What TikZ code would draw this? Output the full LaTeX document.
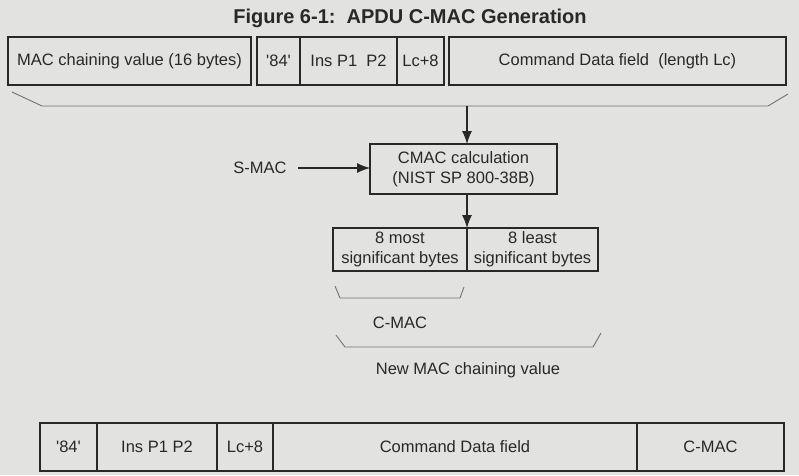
\documentclass[tikz,border=0pt]{standalone}
\usepackage{fontspec}
\setmainfont{Liberation Sans}
\usetikzlibrary{positioning,arrows.meta}
\definecolor{paper}{RGB}{226,226,224}
\definecolor{ink}{RGB}{40,40,40}

\begin{document}
\begin{tikzpicture}[x=1pt, y=-1pt, >={Latex[length=13pt,width=10pt]},
  field/.style={draw=ink, line width=1.1pt, outer sep=0pt, inner sep=0pt,
    minimum height=48pt, align=center, text=ink,
    font=\fontsize{16.5}{20}\selectfont},
  plain/.style={text=ink, font=\fontsize{16.5}{20}\selectfont},
  brace/.style={draw=ink!65, line width=0.9pt},
  flow/.style={->, draw=ink, line width=1.1pt}]

  % the sheet
  \fill[paper] (0,0) rectangle (799,475);
  \useasboundingbox (0,0) rectangle (799,475);

  \node[plain, font=\fontsize{20}{24}\selectfont\bfseries] (title) at (410,18)
    {Figure 6-1:\ \ APDU C-MAC Generation};

  % chaining value and the command header + data
  \node[field, minimum width=243pt, anchor=west] (chain) at (8,61)
    {MAC chaining value (16 bytes)};
  \node[field, minimum width=43pt, anchor=west] (cla) at (257,61)
    {\textquotesingle 84\textquotesingle};
  \node[field, minimum width=97pt, right=0pt of cla] (ins) {Ins P1\ \ P2};
  \node[field, minimum width=47pt, right=0pt of ins] (lc) {Lc+8};
  \node[field, minimum width=337pt, anchor=west] (data) at (449,61)
    {Command Data field\ \ (length Lc)};

  % bracket gathering all of it
  \draw[brace] (12,92) -- (42,106) -- (768,106) -- (788,94);
  \coordinate (in) at (467,106);

  % the MAC computation
  \node[field, minimum width=187pt, minimum height=50pt] (cmac) at (463.5,169)
    {CMAC calculation\\(NIST SP 800-38B)};
  \node[plain] (smac) at (260,168) {S-MAC};

  \draw[flow] (in) -- (in |- cmac.north);
  \draw[flow, shorten <=8pt] (smac) -- (smac -| cmac.west);

  % the 16-byte result, in two halves
  \node[field, minimum width=134pt, minimum height=43pt, anchor=north west]
    (most) at (333,228) {8 most\\significant bytes};
  \node[field, minimum width=131pt, minimum height=43pt, right=0pt of most]
    (least) {8 least\\significant bytes};
  \draw[flow] (cmac.south -| in) -- (most.north east);

  % upper half is the C-MAC, all of it the next chaining value
  \draw[brace] (335,286) -- (340,298) -- (460,298) -- (464,287);
  \node[plain] (cmacval) at (400,323) {C-MAC};
  \draw[brace] (336,335) -- (345,347) -- (593,347) -- (601,333);
  \node[plain] (newchain) at (468,370) {New MAC chaining value};

  % the protected command
  \node[field, minimum width=57pt, anchor=west] (cla2) at (40,447)
    {\textquotesingle 84\textquotesingle};
  \node[field, minimum width=120pt, right=0pt of cla2] (ins2) {Ins P1 P2};
  \node[field, minimum width=56pt, right=0pt of ins2] (lc2) {Lc+8};
  \node[field, minimum width=364pt, right=0pt of lc2] (data2) {Command Data field};
  \node[field, minimum width=147pt, right=0pt of data2] (mac2) {C-MAC};

\end{tikzpicture}
\end{document}
